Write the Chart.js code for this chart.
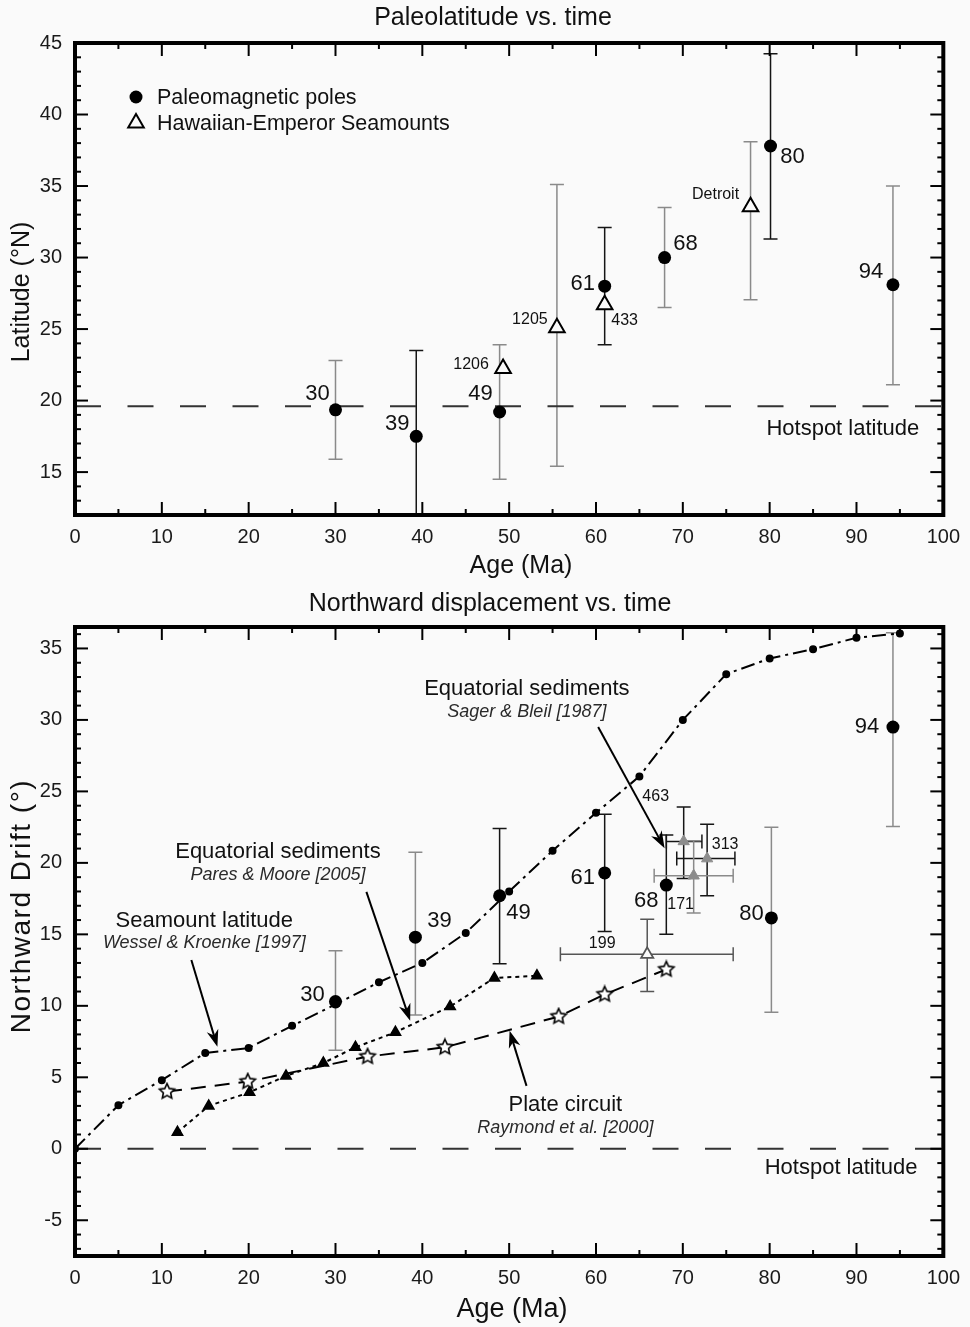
<!DOCTYPE html>
<html>
<head>
<meta charset="utf-8">
<script src="https://cdn.jsdelivr.net/npm/chart.js@4.4.1/dist/chart.umd.min.js"></script>
<style>
  html, body { margin: 0; padding: 0; background: #fafafa; }
  #wrap { position: relative; width: 970px; height: 1327px; }
  #top { position: absolute; left: 0; top: 0; }
  #bottom { position: absolute; left: 0; top: 585px; }
</style>
</head>
<body>
<div id="wrap">
  <canvas id="top" width="970" height="585"></canvas>
  <canvas id="bottom" width="970" height="742"></canvas>
</div>
<script>
// ---- top panel: paleolatitude vs. time ----
const poleAges = [30.0, 39.3, 48.9, 61.0, 67.9, 80.1, 94.2];
const poleLat = [19.35, 17.5, 19.2, 28.0, 30.0, 37.8, 28.1];
const poleLatLow = [15.9, 10.0, 14.5, 23.9, 26.5, 31.3, 21.1];
const poleLatHigh = [22.8, 23.5, 23.9, 32.1, 33.5, 44.25, 35.0];
const poleNames = ['30', '39', '49', '61', '68', '80', '94'];

const smtAges = [49.3, 55.5, 61.0, 77.8];
const smtLat = [22.25, 25.1, 26.7, 33.55];
const smtLatLow = [null, 15.4, null, 27.05];
const smtLatHigh = [null, 35.1, null, 38.1];
const smtNames = ['1206', '1205', '433', 'Detroit'];

const hotspotLat = 19.6;
const ageTicks = [0, 10, 20, 30, 40, 50, 60, 70, 80, 90, 100];
const latTicks = [15, 20, 25, 30, 35, 40, 45];

// ---- bottom panel: northward displacement vs. time ----
const driftAges = [30.0, 39.2, 48.9, 61.0, 68.1, 80.2, 94.2];
const drift = [10.3, 14.8, 17.7, 19.3, 18.45, 16.15, 29.5];
const driftLow = [6.9, 9.35, 12.95, 15.2, 15.0, 9.55, 22.55];
const driftHigh = [13.85, 20.75, 22.4, 23.4, 21.95, 22.5, 36.1];
const driftNames = ['30', '39', '49', '61', '68', '80', '94'];

// seamount latitude, Wessel & Kroenke [1997]
const wkAges = [0, 5, 10, 15, 20, 25, 30, 35, 40, 45, 50, 55, 60, 65, 70, 75, 80, 85, 90, 95];
const wkDrift = [0, 3.05, 4.8, 6.7, 7.05, 8.6, 10.1, 11.65, 13.0, 15.1, 18.0, 20.85, 23.5, 26.05, 30.0, 33.2, 34.3, 34.95, 35.75, 36.05];

// equatorial sediments, Pares & Moore [2005]
const pmAges = [11.8, 15.4, 20.1, 24.3, 28.6, 32.3, 36.9, 43.2, 48.3, 53.2];
const pmDrift = [1.15, 3.0, 3.95, 5.1, 6.0, 7.1, 8.15, 9.95, 11.95, 12.1];

// plate circuit, Raymond et al. [2000]
const pcAges = [10.6, 19.9, 33.7, 42.6, 55.7, 61.0, 68.1];
const pcDrift = [4.0, 4.7, 6.45, 7.1, 9.25, 10.8, 12.55];

// equatorial sediments, Sager & Bleil [1987]
const sbAges = [70.1, 72.8, 71.25];
const sbDrift = [21.5, 20.3, 19.1];
const sbLow = [18.9, 17.7, 16.5];
const sbHigh = [23.9, 22.7, 21.55];
const sbAgeLow = [68.1, 69.3, 66.7];
const sbAgeHigh = [72.2, 76.0, 75.8];
const sbNames = ['463', '313', '171'];

// seamount 199
const s199Age = [65.9];
const s199Drift = [13.6];
const s199Low = [11.0];
const s199High = [16.05];
const s199AgeLow = [55.9];
const s199AgeHigh = [75.8];
const s199Names = ['199'];

const driftTicks = [-5, 0, 5, 10, 15, 20, 25, 30, 35];

// ---- styles (kept apart from the data) ----
const FONT = '"Liberation Sans", Arial, Helvetica, sans-serif';
const BG = '#fafafa';
const GREY = '#8a8a8a';
const DARK = '#151515';
const poleBarColors = [GREY, DARK, GREY, DARK, GREY, DARK, GREY];
const smtBarColors = [GREY, GREY, GREY, GREY];
const driftBarColors = [GREY, GREY, DARK, DARK, DARK, GREY, GREY];
const sbBarColors = [DARK, DARK, GREY];
const poleLabelOffsets = [[-18, -16], [-19, -12], [-19, -18], [-22, -2], [21, -14], [22, 11], [-22, -13]];
const smtLabelOffsets = [[-32, -4], [-27, -8], [20, 16], [-35, -12]];
const driftLabelOffsets = [[-23, -7], [24, -16], [19, 17], [-22, 5], [-20, 16], [-20, -4], [-26, 0]];
const sbLabelOffsets = [[-28, -45], [18, -14], [-13, 29]];
const s199LabelOffsets = [[-45, -11]];

function pts(xs, ys) { return xs.map((x, i) => ({ x: x, y: ys[i] })); }

function makeStar(r) {
  const c = document.createElement('canvas');
  const s = Math.ceil(r * 2 + 4);
  c.width = s; c.height = s;
  const g = c.getContext('2d');
  g.beginPath();
  for (let k = 0; k < 10; k++) {
    const rr = k % 2 ? r * 0.48 : r;
    const ang = -Math.PI / 2 + k * Math.PI / 5;
    g.lineTo(s / 2 + rr * Math.cos(ang), s / 2 + rr * Math.sin(ang));
  }
  g.closePath();
  g.fillStyle = '#ffffff';
  g.fill();
  g.lineWidth = 1.6;
  g.strokeStyle = '#000';
  g.stroke();
  return c;
}

function line(ctx, x1, y1, x2, y2) {
  ctx.beginPath(); ctx.moveTo(x1, y1); ctx.lineTo(x2, y2); ctx.stroke();
}

function arrow(ctx, x1, y1, x2, y2) {
  ctx.strokeStyle = '#000'; ctx.fillStyle = '#000'; ctx.lineWidth = 2;
  const a = Math.atan2(y2 - y1, x2 - x1);
  const len = 17, hw = 6;
  const bx = x2 - len * Math.cos(a), by = y2 - len * Math.sin(a);
  line(ctx, x1, y1, x2 - 6 * Math.cos(a), y2 - 6 * Math.sin(a));
  ctx.beginPath();
  ctx.moveTo(x2, y2);
  ctx.lineTo(bx + hw * Math.sin(a), by - hw * Math.cos(a));
  ctx.lineTo(bx + 0.3 * len * Math.cos(a), by + 0.3 * len * Math.sin(a));
  ctx.lineTo(bx - hw * Math.sin(a), by + hw * Math.cos(a));
  ctx.closePath();
  ctx.fill();
}

// frame, inward ticks, error bars, labels, notes
function makeDecor(cfg) {
  return {
    id: 'decor',
    beforeDatasetsDraw(chart) {
      const { ctx, chartArea: a, scales: { x, y } } = chart;
      ctx.save();
      ctx.beginPath();
      ctx.rect(a.left, a.top, a.right - a.left, a.bottom - a.top);
      ctx.clip();
      ctx.lineWidth = 1.5;
      cfg.bars.forEach(b => {
        b.xs.forEach((xv, i) => {
          ctx.strokeStyle = b.colors[i];
          const px = x.getPixelForValue(xv), py = y.getPixelForValue(b.ys[i]);
          if (b.lo && b.lo[i] != null) {
            const p1 = y.getPixelForValue(b.lo[i]), p2 = y.getPixelForValue(b.hi[i]);
            line(ctx, px, p1, px, p2);
            line(ctx, px - 7, p1, px + 7, p1);
            line(ctx, px - 7, p2, px + 7, p2);
          }
          if (b.xlo && b.xlo[i] != null) {
            const q1 = x.getPixelForValue(b.xlo[i]), q2 = x.getPixelForValue(b.xhi[i]);
            line(ctx, q1, py, q2, py);
            line(ctx, q1, py - 7, q1, py + 7);
            line(ctx, q2, py - 7, q2, py + 7);
          }
        });
      });
      ctx.restore();
    },
    afterDatasetsDraw(chart) {
      const { ctx, scales: { x, y } } = chart;
      ctx.save();
      ctx.fillStyle = '#111';
      ctx.textAlign = 'center';
      ctx.textBaseline = 'middle';
      cfg.labels.forEach(g => {
        ctx.font = g.size + 'px ' + FONT;
        g.names.forEach((t, i) => {
          ctx.fillText(t, x.getPixelForValue(g.xs[i]) + g.off[i][0], y.getPixelForValue(g.ys[i]) + g.off[i][1]);
        });
      });
      cfg.notes.forEach(n => {
        ctx.font = (n.italic ? 'italic ' : '') + n.size + 'px ' + FONT;
        ctx.fillStyle = n.italic ? '#2a2a2a' : '#111';
        ctx.fillText(n.text, x.getPixelForValue(n.x), y.getPixelForValue(n.y));
      });
      cfg.arrows.forEach(r => {
        arrow(ctx, x.getPixelForValue(r[0]), y.getPixelForValue(r[1]), x.getPixelForValue(r[2]), y.getPixelForValue(r[3]));
      });
      if (cfg.legend) {
        const a = chart.chartArea;
        const lx = a.left + 61, ly1 = a.top + 54, ly2 = a.top + 80;
        ctx.fillStyle = '#000';
        ctx.beginPath(); ctx.arc(lx, ly1, 6.5, 0, Math.PI * 2); ctx.fill();
        ctx.beginPath();
        for (let k = 0; k < 3; k++) {
          const ang = -Math.PI / 2 + k * 2 * Math.PI / 3;
          ctx.lineTo(lx + 9 * Math.cos(ang), ly2 + 9 * Math.sin(ang));
        }
        ctx.closePath();
        ctx.lineWidth = 2; ctx.strokeStyle = '#000'; ctx.stroke();
        ctx.fillStyle = '#111';
        ctx.textAlign = 'left';
        ctx.font = '21.5px ' + FONT;
        ctx.fillText(cfg.legend[0], lx + 21, ly1 + 1);
        ctx.fillText(cfg.legend[1], lx + 21, ly2 + 1);
      }
      ctx.restore();
    },
    afterDraw(chart) {
      const { ctx, chartArea: a, scales: { x, y } } = chart;
      ctx.save();
      ctx.strokeStyle = '#000';
      ctx.lineWidth = 2;
      for (let v = x.min; v <= x.max; v += 5) {
        const px = x.getPixelForValue(v);
        const len = v % 10 === 0 ? 13 : 6;
        line(ctx, px, a.bottom, px, a.bottom - len);
        line(ctx, px, a.top, px, a.top + len);
      }
      for (let v = Math.ceil(y.min); v <= y.max; v += 1) {
        const py = y.getPixelForValue(v);
        const len = v % 5 === 0 ? 13 : 6;
        line(ctx, a.left, py, a.left + len, py);
        line(ctx, a.right, py, a.right - len, py);
      }
      ctx.lineWidth = 4;
      ctx.strokeRect(a.left, a.top, a.right - a.left, a.bottom - a.top);
      // titles
      ctx.fillStyle = '#111';
      ctx.textAlign = 'center';
      ctx.textBaseline = 'middle';
      ctx.font = cfg.title.size + 'px ' + FONT;
      ctx.fillText(cfg.title.text, cfg.title.x, cfg.title.y);
      ctx.font = cfg.xTitle.size + 'px ' + FONT;
      ctx.fillText(cfg.xTitle.text, cfg.xTitle.x, cfg.xTitle.y);
      ctx.translate(cfg.yTitle.x, cfg.yTitle.y);
      ctx.rotate(-Math.PI / 2);
      ctx.font = cfg.yTitle.size + 'px ' + FONT;
      if (cfg.yTitle.spacing) ctx.letterSpacing = cfg.yTitle.spacing + 'px';
      ctx.fillText(cfg.yTitle.text, 0, 0);
      ctx.restore();
    }
  };
}

function scalesFor(yMin, yMax, yTicks, axisH) {
  const tickFont = { size: 20, family: FONT };
  return {
    x: {
      type: 'linear', min: 0, max: 100,
      grid: { display: false, drawTicks: false },
      border: { display: false },
      ticks: { font: tickFont, color: '#1a1a1a', padding: 10, maxRotation: 0 },
      afterBuildTicks: s => { s.ticks = ageTicks.map(v => ({ value: v })); },
      afterFit: s => { s.height = axisH; }
    },
    y: {
      type: 'linear', min: yMin, max: yMax,
      grid: { display: false, drawTicks: false },
      border: { display: false },
      ticks: { font: tickFont, color: '#1a1a1a', padding: 13 },
      afterBuildTicks: s => { s.ticks = yTicks.map(v => ({ value: v })); },
      afterFit: s => { s.width = 75; }
    }
  };
}

// ---- top chart ----
new Chart(document.getElementById('top'), {
  type: 'scatter',
  data: {
    datasets: [
      { label: 'Paleomagnetic poles', data: pts(poleAges, poleLat), pointStyle: 'circle', pointRadius: 6.5,
        backgroundColor: '#000', borderColor: '#000', borderWidth: 0 },
      { label: 'Hawaiian-Emperor Seamounts', data: pts(smtAges, smtLat), pointStyle: 'triangle', pointRadius: 9,
        backgroundColor: BG, borderColor: '#000', borderWidth: 2 },
      { label: 'Hotspot latitude', data: pts([0, 100], [hotspotLat, hotspotLat]), showLine: true, pointRadius: 0,
        borderColor: '#333', borderWidth: 2, borderDash: [26, 26.5] }
    ]
  },
  options: {
    responsive: false, animation: false, events: [],
    layout: { padding: { left: 0, right: 23, top: 43, bottom: 0 } },
    plugins: { legend: { display: false }, tooltip: { enabled: false } },
    scales: scalesFor(12, 45, latTicks, 70)
  },
  plugins: [makeDecor({
    bars: [
      { xs: poleAges, ys: poleLat, lo: poleLatLow, hi: poleLatHigh, colors: poleBarColors },
      { xs: smtAges, ys: smtLat, lo: smtLatLow, hi: smtLatHigh, colors: smtBarColors }
    ],
    labels: [
      { xs: poleAges, ys: poleLat, names: poleNames, off: poleLabelOffsets, size: 22 },
      { xs: smtAges, ys: smtLat, names: smtNames, off: smtLabelOffsets, size: 16 }
    ],
    notes: [{ x: 88.43, y: 18.02, text: 'Hotspot latitude', size: 22 }],
    arrows: [],
    legend: ['Paleomagnetic poles', 'Hawaiian-Emperor Seamounts'],
    title: { text: 'Paleolatitude vs. time', x: 493, y: 18, size: 25 },
    xTitle: { text: 'Age (Ma)', x: 521, y: 566, size: 25 },
    yTitle: { text: 'Latitude (°N)', x: 22, y: 292, size: 25 }
  })]
});

// ---- bottom chart ----
const starImg = makeStar(8);
new Chart(document.getElementById('bottom'), {
  type: 'scatter',
  data: {
    datasets: [
      { label: 'Paleomagnetic poles', data: pts(driftAges, drift), pointStyle: 'circle', pointRadius: 6.5,
        backgroundColor: '#000', borderColor: '#000', borderWidth: 0 },
      { label: 'Sager & Bleil [1987]', data: pts(sbAges, sbDrift), pointStyle: 'triangle', pointRadius: 6.5,
        backgroundColor: '#8c8c8c', borderColor: '#8c8c8c', borderWidth: 1 },
      { label: '199', data: pts(s199Age, s199Drift), pointStyle: 'triangle', pointRadius: 7,
        backgroundColor: BG, borderColor: '#555', borderWidth: 1.8 },
      { label: 'Plate circuit', data: pts(pcAges, pcDrift), showLine: true, pointStyle: starImg,
        borderColor: '#000', borderWidth: 2, borderDash: [15, 9] },
      { label: 'Pares & Moore [2005]', data: pts(pmAges, pmDrift), showLine: true, pointStyle: 'triangle', pointRadius: 5.5,
        backgroundColor: '#000', borderColor: '#000', borderWidth: 2, borderDash: [4, 4] },
      { label: 'Seamount latitude', data: pts(wkAges, wkDrift), showLine: true, pointStyle: 'circle', pointRadius: 3,
        backgroundColor: '#000', borderColor: '#000', borderWidth: 2, borderDash: [14, 5, 3, 5] },
      { label: 'Hotspot latitude', data: pts([0, 100], [0, 0]), showLine: true, pointRadius: 0,
        borderColor: '#333', borderWidth: 2, borderDash: [26, 26.5] }
    ]
  },
  options: {
    responsive: false, animation: false, events: [],
    layout: { padding: { left: 0, right: 23, top: 42, bottom: 0 } },
    plugins: { legend: { display: false }, tooltip: { enabled: false } },
    scales: scalesFor(-7.5, 36.5, driftTicks, 71)
  },
  plugins: [makeDecor({
    bars: [
      { xs: driftAges, ys: drift, lo: driftLow, hi: driftHigh, colors: driftBarColors },
      { xs: s199Age, ys: s199Drift, lo: s199Low, hi: s199High, xlo: s199AgeLow, xhi: s199AgeHigh, colors: ['#555'] },
      { xs: sbAges, ys: sbDrift, lo: sbLow, hi: sbHigh, xlo: sbAgeLow, xhi: sbAgeHigh, colors: sbBarColors }
    ],
    labels: [
      { xs: driftAges, ys: drift, names: driftNames, off: driftLabelOffsets, size: 22 },
      { xs: sbAges, ys: sbDrift, names: sbNames, off: sbLabelOffsets, size: 16 },
      { xs: s199Age, ys: s199Drift, names: s199Names, off: s199LabelOffsets, size: 16 }
    ],
    notes: [
      { x: 52.04, y: 32.17, text: 'Equatorial sediments', size: 22 },
      { x: 52.04, y: 30.58, text: 'Sager & Bleil [1987]', size: 18, italic: true },
      { x: 23.37, y: 20.75, text: 'Equatorial sediments', size: 22 },
      { x: 23.37, y: 19.16, text: 'Pares & Moore [2005]', size: 18, italic: true },
      { x: 14.89, y: 15.94, text: 'Seamount latitude', size: 22 },
      { x: 14.89, y: 14.38, text: 'Wessel & Kroenke [1997]', size: 18, italic: true },
      { x: 56.47, y: 3.08, text: 'Plate circuit', size: 22 },
      { x: 56.47, y: 1.45, text: 'Raymond et al. [2000]', size: 18, italic: true },
      { x: 88.23, y: -1.35, text: 'Hotspot latitude', size: 22 }
    ],
    arrows: [
      [60.25, 29.5, 67.9, 21.03],
      [33.56, 17.97, 38.6, 8.95],
      [13.4, 13.2, 16.4, 7.13],
      [52.0, 4.4, 50.05, 8.25]
    ],
    legend: null,
    title: { text: 'Northward displacement vs. time', x: 490, y: 19, size: 25 },
    xTitle: { text: 'Age (Ma)', x: 512, y: 725, size: 27 },
    yTitle: { text: 'Northward Drift (°)', x: 22, y: 321, size: 28, spacing: 1.5 }
  })]
});
</script>
</body>
</html>
